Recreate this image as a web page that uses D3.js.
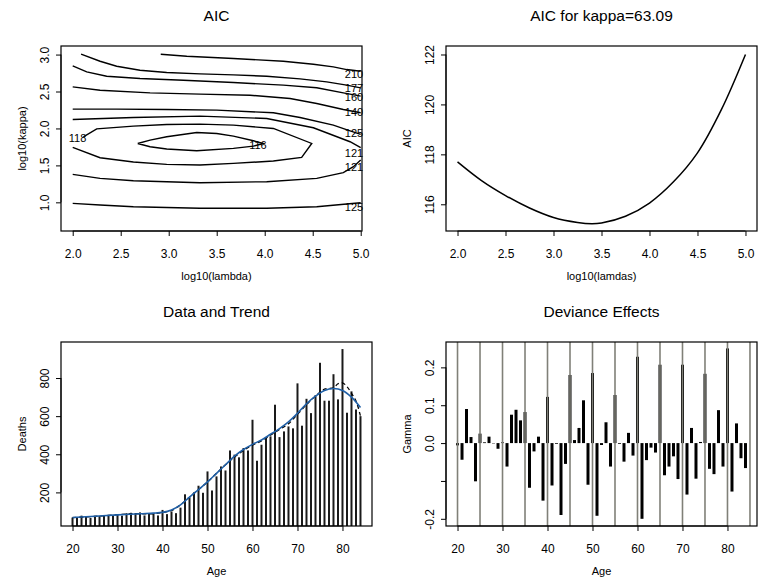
<!DOCTYPE html>
<html><head><meta charset="utf-8">
<script src="https://cdn.jsdelivr.net/npm/d3@7"></script>
<style>
body{margin:0;background:#fff}
svg{display:block}
text{font-family:"Liberation Sans",Arial,Helvetica,sans-serif;fill:#000}
</style>
</head><body>
<svg id="c" width="758" height="584"></svg>
<script>
// ---------- DATA ----------
// Panel 1: AIC contour lines over log10(lambda) x log10(kappa)
const contour210 = [[2.917,3.005],[3.188,2.977],[3.674,2.946],[4.194,2.910],[4.507,2.869],[4.715,2.833],[4.854,2.797],[5.0,2.775]];
const contour177 = [[2.087,3.005],[2.285,2.910],[2.458,2.842],[2.701,2.788],[2.979,2.757],[3.326,2.739],[3.674,2.725],[4.021,2.707],[4.368,2.671],[4.646,2.631],[4.854,2.586],[5.0,2.55]];
const contour160 = [[2.0,2.847],[2.146,2.766],[2.354,2.707],[2.701,2.676],[3.153,2.653],[3.674,2.622],[4.194,2.586],[4.542,2.550],[4.819,2.482],[5.0,2.437]];
const contour140 = [[2.0,2.563],[2.285,2.518],[2.806,2.482],[3.326,2.464],[3.847,2.450],[4.264,2.405],[4.542,2.338],[4.819,2.257],[5.0,2.212]];
const contour125a = [[2.0,2.261],[2.458,2.261],[2.979,2.257],[3.5,2.248],[4.090,2.212],[4.368,2.149],[4.715,2.045],[4.889,1.968],[5.0,1.92]];
const contour121a = [[2.0,2.122],[2.632,2.149],[3.326,2.167],[4.021,2.135],[4.507,2.009],[4.889,1.820],[5.0,1.74]];
const contour121b = [[5.0,1.572],[4.924,1.482],[4.819,1.401],[4.542,1.324],[4.021,1.279],[3.326,1.266],[2.632,1.293],[2.285,1.324],[2.0,1.378]];
const contour118 = [[2.111,1.887],[2.25,1.995],[2.632,2.032],[2.979,2.054],[3.326,2.059],[3.674,2.045],[4.090,2.0],[4.490,1.797],[4.385,1.608],[4.090,1.559],[3.674,1.527],[3.326,1.505],[2.979,1.514],[2.632,1.545],[2.285,1.604],[2.0,1.743]];
const contour116 = [[2.677,1.797],[2.806,1.842],[2.979,1.887],[3.292,1.946],[3.5,1.932],[3.674,1.896],[3.882,1.833],[3.986,1.797],[3.882,1.761],[3.674,1.730],[3.292,1.698],[2.979,1.721],[2.806,1.752],[2.677,1.797]];
const contour125b = [[2.0,0.986],[2.285,0.964],[2.632,0.941],[3.326,0.919],[4.021,0.919],[4.542,0.941],[4.854,0.977],[5.0,0.995]];
const contourLabelText = ["210","177","160","140","125","121","121","125","118","116"];
const contourLabelX = [4.93,4.93,4.93,4.93,4.93,4.93,4.93,4.93,2.05,3.93];
const contourLabelY = [2.734,2.541,2.419,2.216,1.932,1.671,1.482,0.941,1.865,1.775];
const lambdaTicks = [2.0,2.5,3.0,3.5,4.0,4.5,5.0];
const kappaTicks = [1.0,1.5,2.0,2.5,3.0];

// Panel 2: AIC for kappa = 63.09
const lamdas = [2.0,2.25,2.5,2.75,3.0,3.25,3.4,3.5,3.75,4.0,4.25,4.5,4.75,5.0];
const aicValues = [117.7,116.95,116.35,115.85,115.47,115.27,115.22,115.25,115.52,116.05,116.9,118.06,119.8,122.0];
const aicTicks = [116,118,120,122];

// Panel 3: Data and Trend
const ages = [20,21,22,23,24,25,26,27,28,29,30,31,32,33,34,35,36,37,38,39,40,41,42,43,44,45,46,47,48,49,50,51,52,53,54,55,56,57,58,59,60,61,62,63,64,65,66,67,68,69,70,71,72,73,74,75,76,77,78,79,80,81,82,83,84];
const deaths = [68,66,78,73,66,77,76,79,79,79,82,78,91,93,92,95,79,88,92,79,108,86,100,91,120,190,172,200,235,198,310,210,284,336,315,420,398,384,433,420,581,366,450,485,494,660,490,520,546,536,772,550,691,616,710,880,681,681,820,688,952,618,730,635,600];
const trendAges = [20,25,30,35,38,40,42,44,46,48,50,52,54,56,58,60,62,64,66,68,70,72,74,76,78,80,82,84];
const trendBlue = [68,75,82,88,91,95,108,135,175,215,255,300,345,390,425,452,475,505,535,570,615,665,705,735,745,735,700,645];
const fitAges = [20,25,30,33,35,38,40,42,44,46,48,50,52,54,56,58,60,62,64,66,68,70,72,74,76,78,79,80,81,82,83,84];
const fitDashed = [68,74,83,88,88,88,95,105,135,175,215,255,300,345,385,420,448,470,500,530,560,610,660,705,742,748,770,775,755,720,680,600];
const ageTicks = [20,30,40,50,60,70,80];
const deathTicks = [200,400,600,800];

// Panel 4: Deviance Effects
const gamma = [-0.006,-0.044,0.090,0.016,-0.101,0.025,0.002,0.017,-0.001,-0.015,0.002,-0.062,0.075,0.088,0.060,0.082,-0.118,-0.022,0.017,-0.152,0.122,-0.112,-0.002,-0.190,-0.055,0.180,0.008,0.040,0.113,-0.110,0.185,-0.192,-0.005,0.055,-0.062,0.127,-0.002,-0.049,0.027,-0.033,0.228,-0.200,-0.045,-0.012,-0.025,0.207,-0.085,-0.062,-0.035,-0.095,0.207,-0.136,0.040,-0.094,0.003,0.183,-0.068,-0.082,0.087,-0.062,0.250,-0.128,0.052,-0.040,-0.066];
const gridAges = [20,25,30,35,40,45,50,55,60,65,70,75,80,85];
const gammaTicks = [-0.2,-0.1,0.0,0.1,0.2];
const gammaTickLabels = ["-0.2","","0.0","0.1","0.2"];

// ---------- DRAWING ----------
const svg = d3.select("#c");

function panel(o){
  const g = svg.append("g");
  const x = d3.scaleLinear().domain(o.xd).range([o.x0,o.x1]);
  const y = d3.scaleLinear().domain(o.yd).range([o.y1,o.y0]);
  const cid = "clip"+Math.random().toString(36).slice(2);
  svg.append("clipPath").attr("id",cid).append("rect")
    .attr("x",o.x0).attr("y",o.y0).attr("width",o.x1-o.x0).attr("height",o.y1-o.y0);
  const inner = g.append("g").attr("clip-path",`url(#${cid})`);
  // x axis
  const ax = g.append("g").attr("transform",`translate(0,${o.y1})`)
    .call(d3.axisBottom(x).tickValues(o.xt).tickSize(5).tickFormat(o.xf));
  ax.select(".domain").remove();
  ax.append("line").attr("x1",x(o.xt[0])).attr("x2",x(o.xt[o.xt.length-1]))
    .attr("stroke","#000");
  ax.selectAll(".tick line").attr("stroke","#000");
  ax.selectAll(".tick text").attr("y",27).attr("dy",0).style("font-size","12px")
    .attr("fill","#000").style("font-family","Liberation Sans, Arial, sans-serif");
  // y axis
  const ay = g.append("g").attr("transform",`translate(${o.x0},0)`)
    .call(d3.axisLeft(y).tickValues(o.yt).tickSize(5).tickFormat((d,i)=>o.yf(d,i)));
  ay.select(".domain").remove();
  ay.append("line").attr("y1",y(o.yt[0])).attr("y2",y(o.yt[o.yt.length-1]))
    .attr("stroke","#000");
  ay.selectAll(".tick line").attr("stroke","#000");
  ay.selectAll(".tick text").attr("x",0).attr("dy",0).attr("text-anchor","middle")
    .attr("transform","translate(-12,0) rotate(-90)").style("font-size","12px")
    .attr("fill","#000").style("font-family","Liberation Sans, Arial, sans-serif");
  // box
  g.append("rect").attr("x",o.x0).attr("y",o.y0).attr("width",o.x1-o.x0).attr("height",o.y1-o.y0)
    .attr("fill","none").attr("stroke","#000").attr("stroke-width",1.2);
  // titles
  const cx = (o.tx0!==undefined?o.tx0:o.x0);
  const cx1 = (o.tx1!==undefined?o.tx1:o.x1);
  g.append("text").attr("x",(cx+cx1)/2).attr("y",o.y0-25.5).attr("text-anchor","middle")
    .style("font-size","15.5px").text(o.title);
  g.append("text").attr("x",(cx+cx1)/2).attr("y",o.y1+49).attr("text-anchor","middle")
    .style("font-size","11px").text(o.xlab);
  g.append("text").attr("transform",`translate(${o.x0-35},${(o.y0+o.y1)/2}) rotate(-90)`)
    .attr("text-anchor","middle").style("font-size","11px").text(o.ylab);
  return {g,inner,x,y};
}

// Panel 1
{
  const p = panel({x0:61,x1:362,y0:46,y1:231,xd:[1.878,5.0135],yd:[0.612,3.116],
    xt:lambdaTicks,yt:kappaTicks,xf:d3.format(".1f"),yf:d3.format(".1f"),
    title:"AIC",xlab:"log10(lambda)",ylab:"log10(kappa)",tx1:372});
  const line = d3.line().x(d=>p.x(d[0])).y(d=>p.y(d[1]));
  const lines = [contour210,contour177,contour160,contour140,contour125a,contour121a,contour121b,contour118,contour116,contour125b];
  p.inner.selectAll("path.c").data(lines).join("path").attr("class","c")
    .attr("d",line).attr("fill","none").attr("stroke","#000").attr("stroke-width",1.4);
  p.g.selectAll("text.cl").data(contourLabelText).join("text").attr("class","cl")
    .attr("x",(d,i)=>p.x(contourLabelX[i])).attr("y",(d,i)=>p.y(contourLabelY[i])+4)
    .attr("text-anchor","middle").style("font-size","11px").text(d=>d);
}

// Panel 2
{
  const p = panel({x0:446,x1:757,y0:46,y1:231,xd:[1.88,5.12],yd:[114.93,122.34],
    xt:lambdaTicks,yt:aicTicks,xf:d3.format(".1f"),yf:d3.format("d"),
    title:"AIC for kappa=63.09",xlab:"log10(lamdas)",ylab:"AIC"});
  const line = d3.line().x((d,i)=>p.x(lamdas[i])).y(d=>p.y(d)).curve(d3.curveCatmullRom);
  p.inner.append("path").attr("d",line(aicValues)).attr("fill","none").attr("stroke","#000").attr("stroke-width",1.5);
}

// Panel 3
{
  const p = panel({x0:61,x1:372,y0:342,y1:526,xd:[17.44,86.56],yd:[23.7,989],
    xt:ageTicks,yt:deathTicks,xf:d3.format("d"),yf:d3.format("d"),
    title:"Data and Trend",xlab:"Age",ylab:"Deaths"});
  p.inner.selectAll("line.b").data(deaths).join("line").attr("class","b")
    .attr("x1",(d,i)=>p.x(ages[i])).attr("x2",(d,i)=>p.x(ages[i]))
    .attr("y1",p.y(p.y.domain()[0])).attr("y2",d=>p.y(d))
    .attr("stroke","#1a1a1a").attr("stroke-width",2);
  const l2 = d3.line().x((d,i)=>p.x(fitAges[i])).y(d=>p.y(d)).curve(d3.curveCatmullRom);
  p.inner.append("path").attr("d",l2(fitDashed)).attr("fill","none").attr("stroke","#000")
    .attr("stroke-width",1.3).attr("stroke-dasharray","4,3");
  const l1 = d3.line().x((d,i)=>p.x(trendAges[i])).y(d=>p.y(d)).curve(d3.curveCatmullRom);
  p.inner.append("path").attr("d",l1(trendBlue)).attr("fill","none").attr("stroke","#1f5fa6")
    .attr("stroke-width",1.6);
}

// Panel 4
{
  const p = panel({x0:446,x1:757,y0:342,y1:526,xd:[17.44,86.56],yd:[-0.219,0.267],
    xt:ageTicks,yt:gammaTicks,xf:d3.format("d"),yf:(d,i)=>gammaTickLabels[i],
    title:"Deviance Effects",xlab:"Age",ylab:"Gamma"});
  p.inner.selectAll("line.b").data(gamma).join("line").attr("class","b")
    .attr("x1",(d,i)=>p.x(ages[i])).attr("x2",(d,i)=>p.x(ages[i]))
    .attr("y1",p.y(0)).attr("y2",d=>p.y(d))
    .attr("stroke","#000").attr("stroke-width",3);
  p.inner.selectAll("line.v").data(gridAges).join("line").attr("class","v")
    .attr("x1",d=>p.x(d)).attr("x2",d=>p.x(d)).attr("y1",342).attr("y2",526)
    .attr("stroke","#808078").attr("stroke-width",1.6);
}
</script>
</body></html>
